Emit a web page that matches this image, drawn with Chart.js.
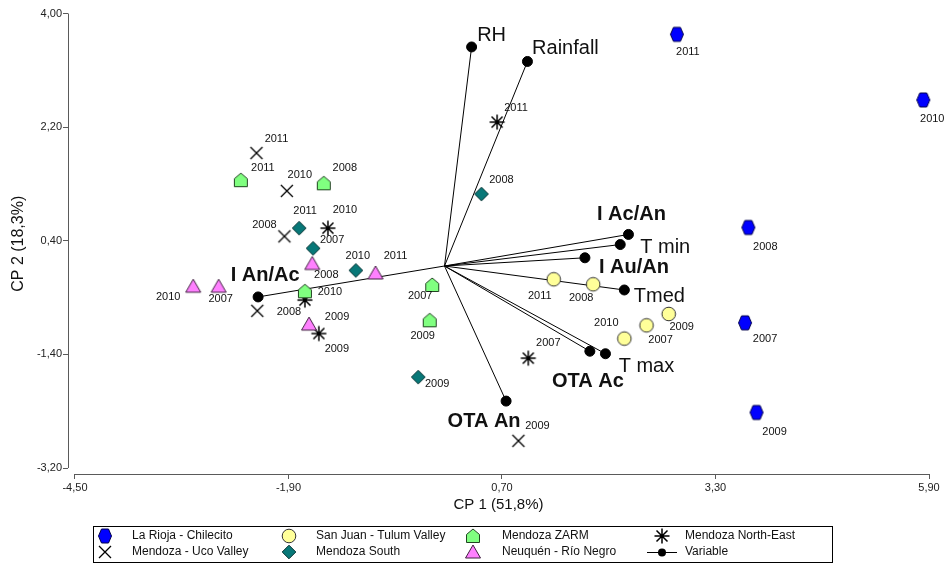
<!DOCTYPE html>
<html lang="en">
<head>
<meta charset="UTF-8">
<title>Biplot CP1 / CP2</title>
<script src="https://cdn.jsdelivr.net/npm/chart.js@4"></script>
<style>
  body { margin: 0; background: #fff; }
  #wrap { width: 946px; height: 564px; }
</style>
</head>
<body>
<div id="wrap"><canvas id="biplot" width="946" height="564"></canvas></div>
<script>
// ---- data ----
const xTicks = [-4.5, -1.9, 0.7, 3.3, 5.9];
const yTicks = [-3.2, -1.4, 0.4, 2.2, 4.0];

const laRiojaYears = ['2011', '2010', '2008', '2007', '2009'];
const laRiojaX = [2.83, 5.83, 3.70, 3.66, 3.80];
const laRiojaY = [3.67, 2.63, 0.61, -0.90, -2.32];

const sanJuanYears = ['2011', '2008', '2009', '2007', '2010'];
const sanJuanX = [1.33, 1.81, 2.73, 2.46, 2.19];
const sanJuanY = [-0.21, -0.29, -0.76, -0.94, -1.15];

const zarmYears = ['2011', '2008', '2010', '2007', '2009'];
const zarmX = [-2.48, -1.47, -1.70, -0.15, -0.18];
const zarmY = [1.36, 1.31, -0.40, -0.30, -0.86];

const ucoYears = ['2011', '2010', '2008', '', '2009'];
const ucoX = [-2.29, -1.92, -1.95, -2.28, 0.90];
const ucoY = [1.79, 1.19, 0.47, -0.71, -2.77];

const northEastYears = ['2011', '2010', '2008', '2009', '2007'];
const northEastX = [0.64, -1.42, -1.70, -1.53, 1.02];
const northEastY = [2.28, 0.60, -0.54, -1.07, -1.46];

const southYears = ['2008', '2011', '2007', '2010', '2009'];
const southX = [0.45, -1.77, -1.60, -1.08, -0.32];
const southY = [1.14, 0.60, 0.28, -0.07, -1.76];

const neuquenYears = ['2008', '2011', '2010', '2007', '2009'];
const neuquenX = [-1.61, -0.84, -3.06, -2.75, -1.65];
const neuquenY = [0.04, -0.11, -0.32, -0.32, -0.92];

const varNames = ['RH', 'Rainfall', 'I Ac/An', 'T min', 'I Au/An', 'Tmed', 'T max', 'OTA Ac', 'OTA An', 'I An/Ac'];
const varX = [0.33, 1.01, 2.24, 2.14, 1.71, 2.19, 1.96, 1.77, 0.75, -2.27];
const varY = [3.47, 3.24, 0.50, 0.34, 0.13, -0.38, -1.39, -1.35, -2.14, -0.49];

// ---- label placement (pixel offsets from the marker) ----
const laRiojaLabelPos = [[11, 18], [9, 19], [17, 19], [20, 16], [18, 20]];
const sanJuanLabelPos = [[-14, 17], [-12, 14], [13, 13], [14, 15], [-18, -16]];
const zarmLabelPos = [[22, -12], [21, -15], [25, 1], [-12, 11], [-7, 16]];
const ucoLabelPos = [[20, -14], [13, -16], [-20, -11], [0, 0], [19, -15]];
const northEastLabelPos = [[19, -14], [17, -18], [-16, 12], [18, 15], [20, -15]];
const southLabelPos = [[20, -14], [6, -17], [19, -8], [2, -14], [19, 7]];
const neuquenLabelPos = [[14, 11], [20, -17], [-25, 11], [2, 13], [28, -7]];
const varLabelPos = [[20, -11], [38, -13], [3, -20], [45, 3], [49, 10], [35, 6], [41, 13], [-2, 30], [-22, 20], [7, -21]];
const varBold = [false, false, true, false, true, false, false, true, true, true];

const FONT = '"Liberation Sans", Arial, sans-serif';

// marker shapes, drawn once into small canvases
function drawMarker(ctx, kind, cx, cy) {
    ctx.lineWidth = 1;
    ctx.strokeStyle = '#000';
    const poly = (pts, fill, stroke) => {
        ctx.beginPath();
        pts.forEach((p, i) => i ? ctx.lineTo(cx + p[0], cy + p[1]) : ctx.moveTo(cx + p[0], cy + p[1]));
        ctx.closePath();
        ctx.fillStyle = fill;
        ctx.fill();
        ctx.strokeStyle = stroke;
        ctx.stroke();
    };
    if (kind === 'hex') {
        poly([[-6.5, 0], [-3.5, -7], [3.5, -7], [6.5, 0], [3.5, 7], [-3.5, 7]], '#0000ff', '#00004a');
    } else if (kind === 'circle') {
        ctx.beginPath();
        ctx.arc(cx, cy, 6.8, 0, Math.PI * 2);
        ctx.fillStyle = '#ffff99';
        ctx.fill();
        ctx.strokeStyle = '#333';
        ctx.stroke();
    } else if (kind === 'house') {
        poly([[0, -7], [6.5, -1.5], [6.5, 6.5], [-6.5, 6.5], [-6.5, -1.5]], '#80ff80', '#224422');
    } else if (kind === 'diamond') {
        poly([[0, -6.8], [6.8, 0], [0, 6.8], [-6.8, 0]], '#087878', '#043030');
    } else if (kind === 'tri') {
        poly([[0, -7], [7.5, 6], [-7.5, 6]], '#ff80ff', '#402040');
    } else if (kind === 'x') {
        ctx.lineWidth = 1.3;
        ctx.beginPath();
        ctx.moveTo(cx - 6, cy - 6); ctx.lineTo(cx + 6, cy + 6);
        ctx.moveTo(cx + 6, cy - 6); ctx.lineTo(cx - 6, cy + 6);
        ctx.stroke();
    } else if (kind === 'star') {
        ctx.lineWidth = 1.5;
        ctx.beginPath();
        ctx.moveTo(cx, cy - 7.5); ctx.lineTo(cx, cy + 7.5);
        ctx.moveTo(cx - 7.5, cy); ctx.lineTo(cx + 7.5, cy);
        ctx.moveTo(cx - 5.5, cy - 5.5); ctx.lineTo(cx + 5.5, cy + 5.5);
        ctx.moveTo(cx + 5.5, cy - 5.5); ctx.lineTo(cx - 5.5, cy + 5.5);
        ctx.stroke();
    }
}

function markerImage(kind) {
    const c = document.createElement('canvas');
    c.width = 18;
    c.height = 18;
    drawMarker(c.getContext('2d'), kind, 9, 9);
    return c;
}

const groups = [
    { name: 'La Rioja - Chilecito', kind: 'hex', years: laRiojaYears, xs: laRiojaX, ys: laRiojaY, pos: laRiojaLabelPos },
    { name: 'Mendoza - Uco Valley', kind: 'x', years: ucoYears, xs: ucoX, ys: ucoY, pos: ucoLabelPos },
    { name: 'San Juan - Tulum Valley', kind: 'circle', years: sanJuanYears, xs: sanJuanX, ys: sanJuanY, pos: sanJuanLabelPos },
    { name: 'Mendoza South', kind: 'diamond', years: southYears, xs: southX, ys: southY, pos: southLabelPos },
    { name: 'Mendoza ZARM', kind: 'house', years: zarmYears, xs: zarmX, ys: zarmY, pos: zarmLabelPos },
    { name: 'Neuquén - Río Negro', kind: 'tri', years: neuquenYears, xs: neuquenX, ys: neuquenY, pos: neuquenLabelPos },
    { name: 'Mendoza North-East', kind: 'star', years: northEastYears, xs: northEastX, ys: northEastY, pos: northEastLabelPos }
];
groups.forEach(g => g.img = markerImage(g.kind));

const datasets = [];
varNames.forEach((n, i) => {
    datasets.push({
        label: n,
        data: [{ x: 0, y: 0 }, { x: varX[i], y: varY[i] }],
        showLine: true,
        borderColor: '#000',
        borderWidth: 1,
        pointRadius: [0, 5],
        pointBackgroundColor: '#000',
        pointBorderColor: '#000',
        order: 10,
        clip: false
    });
});
groups.forEach(g => {
    datasets.push({
        label: g.name,
        data: g.xs.map((x, i) => ({ x: x, y: g.ys[i] })),
        pointStyle: g.img,
        pointRadius: 7,
        order: 0,
        clip: false
    });
});

const fmt = v => v.toFixed(2).replace('.', ',');

const axisLines = {
    id: 'axisLines',
    beforeDatasetsDraw(chart) {
        const { ctx, chartArea, scales } = chart;
        ctx.save();
        ctx.strokeStyle = '#5a5a5a';
        ctx.lineWidth = 1;
        ctx.beginPath();
        const lx = Math.round(chartArea.left) + 0.5;
        ctx.moveTo(lx, scales.y.getPixelForValue(4.0));
        ctx.lineTo(lx, scales.y.getPixelForValue(-3.2));
        const by = Math.round(chartArea.bottom) + 0.5;
        ctx.moveTo(scales.x.getPixelForValue(-4.5), by);
        ctx.lineTo(scales.x.getPixelForValue(5.9), by);
        ctx.stroke();
        ctx.restore();
    }
};

const pointLabels = {
    id: 'pointLabels',
    afterDatasetsDraw(chart) {
        const { ctx, scales } = chart;
        ctx.save();
        ctx.textAlign = 'center';
        ctx.textBaseline = 'middle';
        ctx.fillStyle = '#111';
        ctx.font = '11px ' + FONT;
        groups.forEach(g => {
            g.xs.forEach((x, i) => {
                if (!g.years[i]) return;
                ctx.fillText(g.years[i],
                    scales.x.getPixelForValue(x) + g.pos[i][0],
                    scales.y.getPixelForValue(g.ys[i]) + g.pos[i][1]);
            });
        });
        varNames.forEach((n, i) => {
            ctx.font = (varBold[i] ? 'bold ' : '') + '20px ' + FONT;
            ctx.fillText(n,
                scales.x.getPixelForValue(varX[i]) + varLabelPos[i][0],
                scales.y.getPixelForValue(varY[i]) + varLabelPos[i][1]);
        });
        ctx.restore();
    }
};

const boxLegend = {
    id: 'boxLegend',
    afterDraw(chart) {
        const ctx = chart.ctx;
        ctx.save();
        ctx.strokeStyle = '#000';
        ctx.lineWidth = 1;
        ctx.strokeRect(93.5, 526.5, 739, 36);
        const cols = [105, 289, 473, 662];
        const textX = [132, 316, 502, 685];
        const rows = [536, 552];
        ctx.font = '12px ' + FONT;
        ctx.fillStyle = '#111';
        ctx.textBaseline = 'middle';
        groups.forEach((g, i) => {
            const c = Math.floor(i / 2), cy = rows[i % 2];
            ctx.drawImage(g.img, cols[c] - 9, cy - 9);
            ctx.fillText(g.name, textX[c], cy);
        });
        // variable entry
        const vx = cols[3], vy = rows[1];
        ctx.beginPath();
        ctx.moveTo(vx - 15, vy + 0.5);
        ctx.lineTo(vx + 15, vy + 0.5);
        ctx.stroke();
        ctx.beginPath();
        ctx.arc(vx, vy + 0.5, 4, 0, Math.PI * 2);
        ctx.fillStyle = '#000';
        ctx.fill();
        ctx.fillStyle = '#111';
        ctx.fillText('Variable', textX[3], vy);
        ctx.restore();
    }
};

Chart.defaults.font.family = FONT;
Chart.defaults.color = '#222';

new Chart(document.getElementById('biplot'), {
    type: 'scatter',
    data: { datasets: datasets },
    options: {
        responsive: false,
        animation: false,
        devicePixelRatio: 1,
        layout: { padding: { left: 0, right: 17, top: 13.5, bottom: 0 } },
        plugins: { legend: { display: false }, tooltip: { enabled: false } },
        scales: {
            x: {
                type: 'linear',
                min: -4.585,
                max: 5.9,
                afterBuildTicks: s => { s.ticks = xTicks.map(v => ({ value: v })); },
                afterFit: s => { s.height = 90; s.paddingLeft = 0; s.paddingRight = 0; },
                ticks: { callback: v => fmt(v), autoSkip: false, maxRotation: 0, padding: 2, font: { size: 11 }, color: '#222' },
                grid: { drawOnChartArea: false, drawTicks: true, tickLength: 5, color: '#5a5a5a' },
                border: { display: false },
                title: { display: true, text: 'CP 1 (51,8%)', font: { size: 15 }, color: '#111', padding: { top: 0, bottom: 50 } }
            },
            y: {
                type: 'linear',
                min: -3.295,
                max: 4.0,
                afterBuildTicks: s => { s.ticks = yTicks.map(v => ({ value: v })); },
                afterFit: s => { s.width = 68; s.paddingTop = 0; s.paddingBottom = 0; },
                ticks: { callback: v => fmt(v), autoSkip: false, padding: 1, font: { size: 11 }, color: '#222' },
                grid: { drawOnChartArea: false, drawTicks: true, tickLength: 5, color: '#5a5a5a' },
                border: { display: false },
                title: { display: true, text: 'CP 2 (18,3%)', font: { size: 16 }, color: '#111', padding: { top: 9, bottom: 0 } }
            }
        }
    },
    plugins: [axisLines, pointLabels, boxLegend]
});
</script>
</body>
</html>
